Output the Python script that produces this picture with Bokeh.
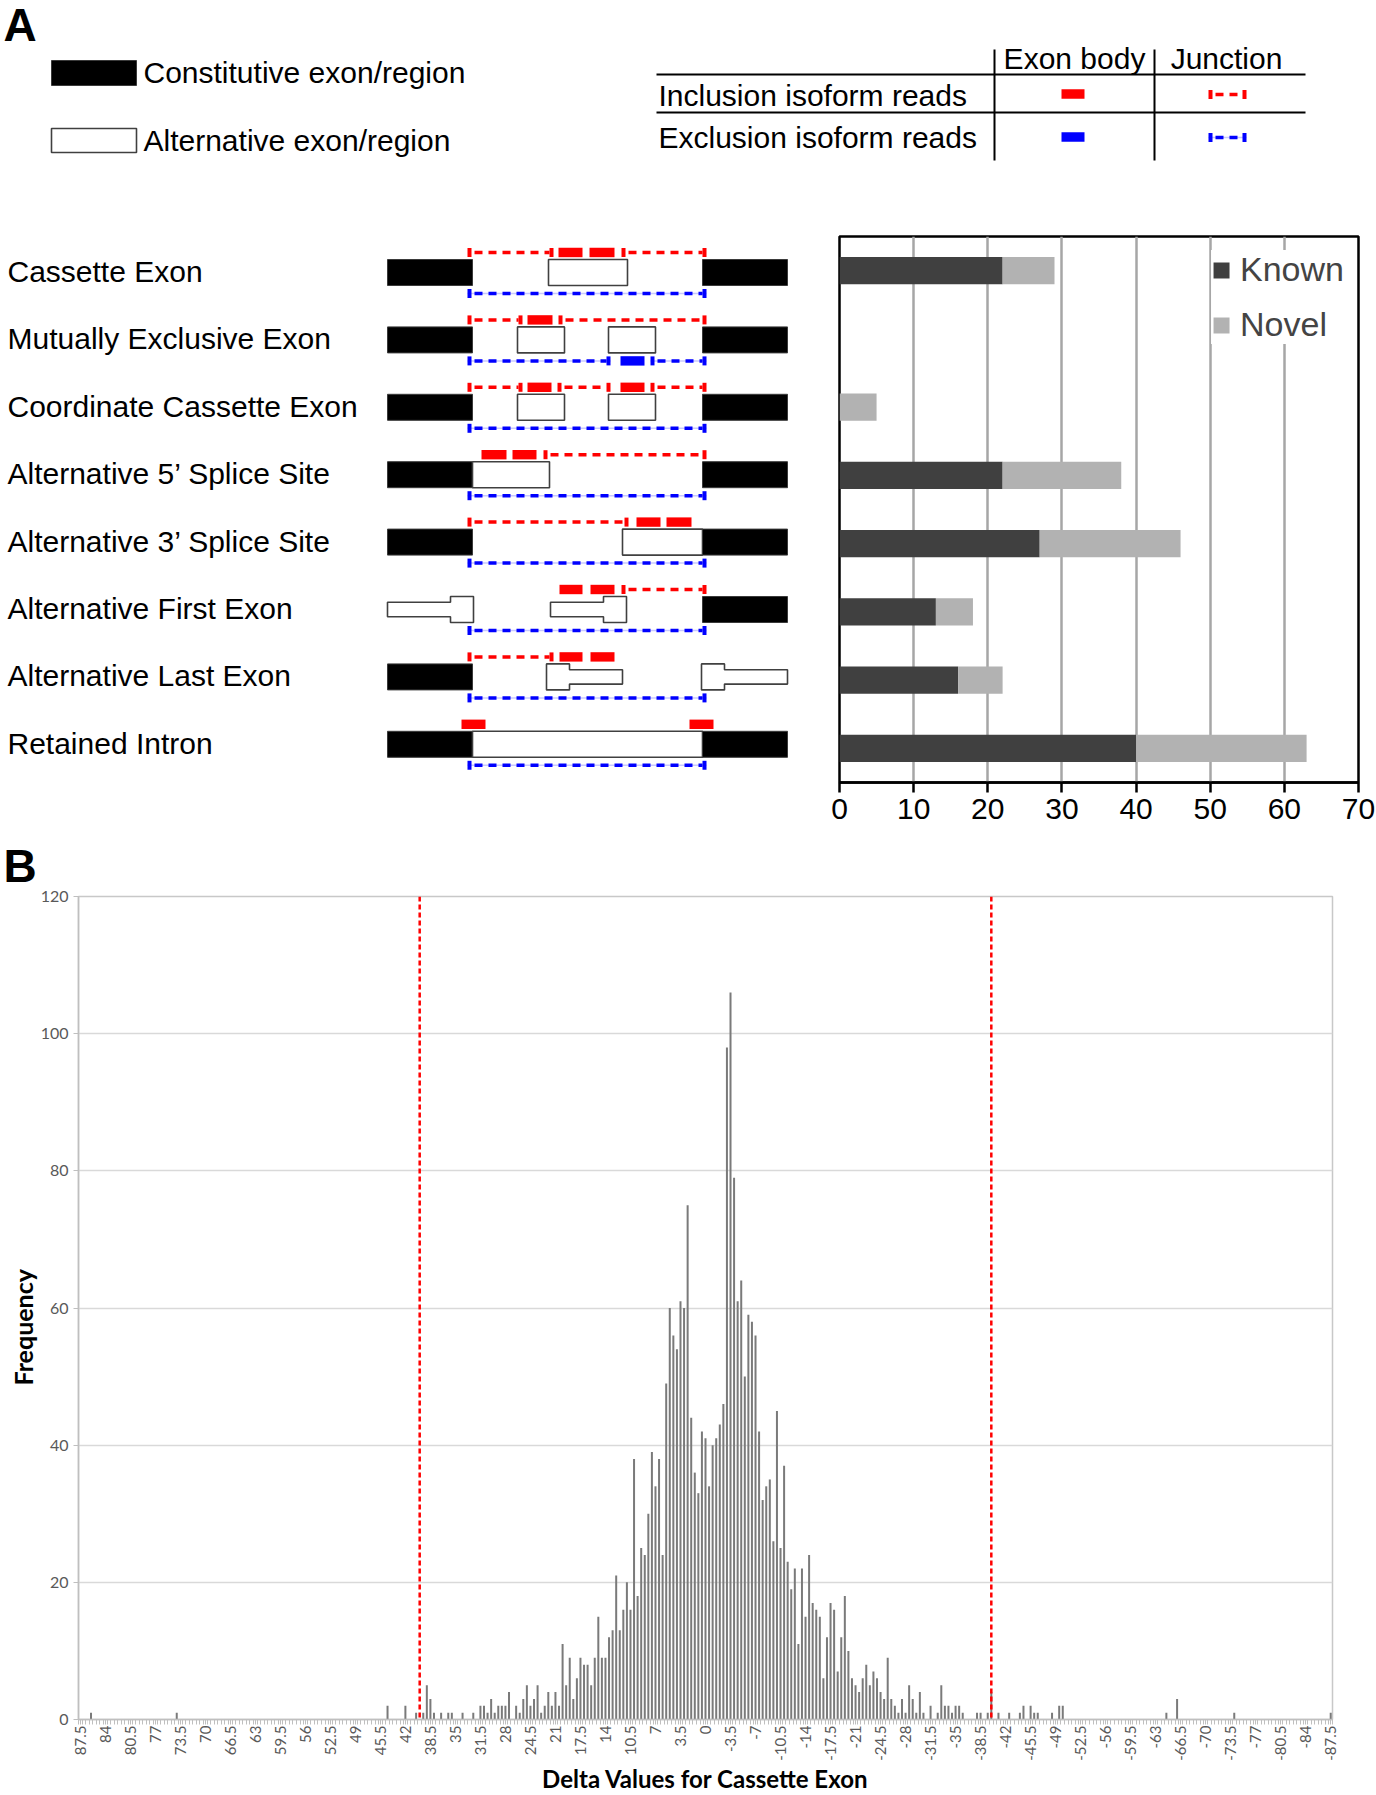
import numpy as np
from bokeh.plotting import figure
from bokeh.models import (Range1d, FactorRange, ColumnDataSource, FixedTicker,
                          CustomJSTickFormatter, Span, Title)
from bokeh.layouts import row
from bokeh.embed import file_html
from bokeh.resources import INLINE
from bokeh.core.properties import value

# ---------------- data: panel A (event counts) ----------------
event_types = ["Cassette Exon", "Mutually Exclusive Exon", "Coordinate Cassette Exon",
               "Alternative 5\u2019 Splice Site", "Alternative 3\u2019 Splice Site",
               "Alternative First Exon", "Alternative Last Exon", "Retained Intron"]
known_counts = [22, 0, 0, 22, 27, 13, 16, 40]
novel_counts = [7, 0, 5, 16, 19, 5, 6, 23]
bar_ticks = [0, 10, 20, 30, 40, 50, 60, 70]
series_names = ["Known", "Novel"]

# ---------------- data: panel B (histogram of delta values) ----------------
delta_values = [
    86.0, 74.0, 44.5, 42.0, 40.5, 39.5, 39.0, 38.5, 38.0, 37.0,
    36.0, 35.5, 34.0, 32.5, 31.5, 31.0, 30.5, 30.0, 29.5, 29.0,
    28.5, 28.0, 27.5, 26.5, 26.0, 25.5, 25.0, 24.5, 24.0, 23.5,
    23.0, 22.5, 22.0, 21.5, 21.0, 20.5, 20.0, 19.5, 19.0, 18.5,
    18.0, 17.5, 17.0, 16.5, 16.0, 15.5, 15.0, 14.5, 14.0, 13.5,
    13.0, 12.5, 12.0, 11.5, 11.0, 10.5, 10.0, 9.5, 9.0, 8.5,
    8.0, 7.5, 7.0, 6.5, 6.0, 5.5, 5.0, 4.5, 4.0, 3.5,
    3.0, 2.5, 2.0, 1.5, 1.0, 0.5, 0.0, -0.5, -1.0, -1.5,
    -2.0, -2.5, -3.0, -3.5, -4.0, -4.5, -5.0, -5.5, -6.0, -6.5,
    -7.0, -7.5, -8.0, -8.5, -9.0, -9.5, -10.0, -10.5, -11.0, -11.5,
    -12.0, -12.5, -13.0, -13.5, -14.0, -14.5, -15.0, -15.5, -16.0, -16.5,
    -17.0, -17.5, -18.0, -18.5, -19.0, -19.5, -20.0, -20.5, -21.0, -21.5,
    -22.0, -22.5, -23.0, -23.5, -24.0, -24.5, -25.0, -25.5, -26.0, -26.5,
    -27.0, -27.5, -28.0, -28.5, -29.0, -29.5, -30.0, -30.5, -31.5, -32.5,
    -33.0, -33.5, -34.0, -34.5, -35.0, -35.5, -36.0, -38.0, -38.5, -39.5,
    -40.0, -41.0, -42.5, -44.0, -44.5, -45.5, -46.0, -46.5, -48.5, -49.5,
    -50.0, -64.5, -66.0, -74.0, -87.5]
frequencies = [
    1, 1, 2, 2, 1, 1, 5, 3, 1, 1,
    1, 1, 1, 1, 2, 2, 1, 3, 1, 2,
    2, 2, 4, 2, 1, 3, 5, 2, 3, 5,
    1, 2, 4, 2, 4, 2, 11, 5, 9, 3,
    6, 9, 8, 8, 5, 9, 15, 9, 9, 12,
    13, 21, 13, 16, 20, 16, 38, 18, 25, 24,
    30, 39, 34, 38, 24, 49, 60, 56, 54, 61,
    60, 75, 44, 36, 33, 42, 41, 34, 40, 41,
    43, 46, 98, 106, 79, 61, 64, 50, 59, 58,
    56, 42, 32, 34, 35, 26, 45, 25, 37, 23,
    19, 22, 11, 22, 15, 24, 17, 16, 15, 6,
    12, 17, 16, 7, 12, 18, 10, 6, 5, 4,
    6, 8, 5, 7, 6, 4, 3, 9, 3, 2,
    1, 3, 1, 5, 3, 1, 4, 1, 2, 1,
    5, 2, 2, 1, 2, 2, 1, 1, 1, 1,
    4, 1, 1, 1, 2, 2, 1, 1, 1, 2,
    2, 1, 3, 1, 1]
cutoffs = [40.0, -40.0]
hist_tick_values = [87.5, 84, 80.5, 77, 73.5, 70, 66.5, 63, 59.5, 56, 52.5, 49, 45.5,
                    42, 38.5, 35, 31.5, 28, 24.5, 21, 17.5, 14, 10.5, 7, 3.5, 0,
                    -3.5, -7, -10.5, -14, -17.5, -21, -24.5, -28, -31.5, -35, -38.5,
                    -42, -45.5, -49, -52.5, -56, -59.5, -63, -66.5, -70, -73.5, -77,
                    -80.5, -84, -87.5]
freq_ticks = [0, 20, 40, 60, 80, 100, 120]

RED = "#FF0000"
BLUE = "#0000FF"
AF = "Liberation Sans"
XF = "Lato"
PAGE_W = 1376


def blank(width, height, xr, yr, **kw):
    opts = dict(min_border=0)
    opts.update(kw)
    p = figure(width=width, height=height, x_range=Range1d(*xr), y_range=Range1d(*yr),
               output_backend="svg", toolbar_location=None,
               x_axis_location=None, y_axis_location=None, **opts)
    p.xgrid.visible = False
    p.ygrid.visible = False
    p.outline_line_color = None
    return p


def label(p, x, y, s, size="30px", align="left", baseline="middle", bold=False, font=AF):
    p.text(x=[x], y=[y], text=[s], text_font=value(font), text_font_size=size,
           text_align=align, text_baseline=baseline,
           text_font_style="bold" if bold else "normal", text_color="black")


def exon(p, x0, x1, yc, h=13.0):
    p.quad(left=[x0], right=[x1], top=[yc - h], bottom=[yc + h],
           fill_color="black", line_color="#3a3a3a", line_width=1)


def alt(p, x0, x1, yc, h=13.0):
    p.quad(left=[x0], right=[x1], top=[yc - h], bottom=[yc + h],
           fill_color="white", line_color="#404040", line_width=1.6)


def shape(p, xs, ys):
    p.patch(x=xs, y=ys, fill_color="white", line_color="#404040", line_width=1.6)


def solid(p, x0, x1, y, color):
    p.quad(left=[x0], right=[x1], top=[y - 4.7], bottom=[y + 4.7],
           fill_color=color, line_color=None)


def junction(p, x0, x1, y, color):
    if color == BLUE:
        p.segment(x0=[x0], y0=[y], x1=[x1], y1=[y], line_color="#C8C8FF", line_width=1.5)
    p.segment(x0=[x0 + 7], y0=[y], x1=[x1 - 4], y1=[y], line_color=color,
              line_width=3.5, line_dash="8 6")
    p.quad(left=[x0, x1 - 4], right=[x0 + 4, x1], top=[y - 4.5, y - 4.5],
           bottom=[y + 4.5, y + 4.5], fill_color=color, line_color=None)


# ---------------- root 1: top strip (legend + table), page y 0..216 ----------------
top = blank(PAGE_W, 216, (0, PAGE_W), (216, 0))
label(top, 3, 24, "A", size="46px", bold=True)
exon(top, 51, 136, 72.5, h=12.5)
alt(top, 51, 136, 140, h=12)
label(top, 143, 72, "Constitutive exon/region")
label(top, 143, 140, "Alternative exon/region")
top.segment(x0=[656, 656], y0=[74, 112], x1=[1305, 1305], y1=[74, 112],
            line_color="black", line_width=2)
top.segment(x0=[994, 1154], y0=[49, 49], x1=[994, 1154], y1=[160, 160],
            line_color="black", line_width=2)
label(top, 1074, 58, "Exon body", align="center")
label(top, 1226, 58, "Junction", align="center")
label(top, 658, 95, "Inclusion isoform reads")
label(top, 658, 137, "Exclusion isoform reads")
solid(top, 1061, 1084, 93.5, RED)
solid(top, 1061, 1084, 136.5, BLUE)
junction(top, 1208, 1246, 94, RED)
junction(top, 1208, 1246, 137, BLUE)

# ---------------- root 2: event diagrams + stacked bars, page y 216..832 ----------------
MID_TOP, FR_TOP, FR_BOT, MID_BOT = 216, 236, 782, 832
diag = blank(820, MID_BOT - MID_TOP, (0, 820), (FR_BOT, FR_TOP),
             min_border_top=FR_TOP - MID_TOP, min_border_bottom=MID_BOT - FR_BOT)


def ry(k):
    return 272 + 67.4 * k


for k, name in enumerate(event_types):
    label(diag, 7, ry(k) - 1, name)

# cassette exon
c = ry(0)
exon(diag, 387, 472, c); exon(diag, 702, 787, c); alt(diag, 548, 627, c)
junction(diag, 467, 553, c - 20, RED); solid(diag, 558, 582, c - 20, RED)
solid(diag, 589, 614, c - 20, RED); junction(diag, 621, 706, c - 20, RED)
junction(diag, 467, 706, c + 21, BLUE)
# mutually exclusive exon
c = ry(1)
exon(diag, 387, 472, c); exon(diag, 702, 787, c)
alt(diag, 517, 564, c); alt(diag, 608, 655, c)
junction(diag, 467, 522, c - 20, RED); solid(diag, 527, 552, c - 20, RED)
junction(diag, 558, 706, c - 20, RED)
junction(diag, 467, 610, c + 21, BLUE); solid(diag, 620, 644, c + 21, BLUE)
junction(diag, 650, 706, c + 21, BLUE)
# coordinate cassette exon
c = ry(2)
exon(diag, 387, 472, c); exon(diag, 702, 787, c)
alt(diag, 517, 564, c); alt(diag, 608, 655, c)
junction(diag, 467, 522, c - 20, RED); solid(diag, 527, 551, c - 20, RED)
junction(diag, 557, 610, c - 20, RED); solid(diag, 620, 644, c - 20, RED)
junction(diag, 650, 706, c - 20, RED)
junction(diag, 467, 706, c + 21, BLUE)
# alternative 5' splice site
c = ry(3)
exon(diag, 387, 472, c); alt(diag, 472, 549, c); exon(diag, 702, 787, c)
solid(diag, 481, 506, c - 20, RED); solid(diag, 512, 536, c - 20, RED)
junction(diag, 543, 706, c - 20, RED)
junction(diag, 467, 706, c + 21, BLUE)
# alternative 3' splice site
c = ry(4)
exon(diag, 387, 472, c); alt(diag, 622, 702, c); exon(diag, 702, 787, c)
junction(diag, 467, 628, c - 20, RED); solid(diag, 636, 660, c - 20, RED)
solid(diag, 666, 691, c - 20, RED)
junction(diag, 467, 706, c + 21, BLUE)
# alternative first exon
c = ry(5)
for (n0, w0, w1) in [(387, 450, 473), (550, 603, 626)]:
    shape(diag, [n0, w0, w0, w1, w1, w0, w0, n0],
          [c - 7.3, c - 7.3, c - 13, c - 13, c + 13, c + 13, c + 7.3, c + 7.3])
exon(diag, 702, 787, c)
solid(diag, 559, 582, c - 20, RED); solid(diag, 590, 614, c - 20, RED)
junction(diag, 621, 706, c - 20, RED)
junction(diag, 467, 706, c + 21, BLUE)
# alternative last exon
c = ry(6)
exon(diag, 387, 472, c)
for (w0, w1, n1) in [(546, 569, 622), (701, 724, 787)]:
    shape(diag, [w0, w1, w1, n1, n1, w1, w1, w0],
          [c - 13, c - 13, c - 7.2, c - 7.2, c + 7.2, c + 7.2, c + 13, c + 13])
junction(diag, 467, 553, c - 20, RED); solid(diag, 559, 582, c - 20, RED)
solid(diag, 590, 614, c - 20, RED)
junction(diag, 467, 706, c + 21, BLUE)
# retained intron
c = ry(7)
exon(diag, 387, 472, c); alt(diag, 472, 702, c); exon(diag, 702, 787, c)
solid(diag, 461, 485, c - 20, RED); solid(diag, 689, 713, c - 20, RED)
junction(diag, 467, 706, c + 21, BLUE)

src = ColumnDataSource(dict(event=event_types, known=known_counts, novel=novel_counts))
bar = figure(width=PAGE_W - 820, height=MID_BOT - MID_TOP,
             y_range=FactorRange(factors=list(reversed(event_types))),
             x_range=Range1d(0, 70), output_backend="svg", toolbar_location=None,
             y_axis_location=None, min_border_left=19, min_border_right=18,
             min_border_top=FR_TOP - MID_TOP, min_border_bottom=MID_BOT - FR_BOT)
bar.hbar_stack(["known", "novel"], y="event", height=0.4,
               fill_color=["#404040", "#B2B2B2"], line_color=None, source=src,
               legend_label=series_names)
bar.xaxis.ticker = FixedTicker(ticks=bar_ticks)
bar.xaxis.major_label_text_font = AF
bar.xaxis.major_label_text_font_size = "30px"
bar.xaxis.major_label_text_color = "black"
bar.xaxis.axis_line_width = 2.5
bar.xaxis.major_tick_line_width = 2.5
bar.xaxis.major_tick_out = 10
bar.xaxis.major_tick_in = 0
bar.xaxis.minor_tick_line_color = None
bar.xaxis.major_label_standoff = 6
bar.xgrid.grid_line_color = "#A6A6A6"
bar.xgrid.grid_line_width = 2.5
bar.ygrid.grid_line_color = None
bar.outline_line_color = "black"
bar.outline_line_width = 2.5
bar.legend.location = "top_right"
bar.legend.label_text_font = AF
bar.legend.label_text_font_size = "34px"
bar.legend.glyph_width = 20
bar.legend.glyph_height = 20
bar.legend.border_line_color = None
bar.legend.background_fill_alpha = 1.0
bar.legend.spacing = 16
bar.legend.padding = 9
bar.legend.margin = 14
bar.legend.label_standoff = 9

mid = row(diag, bar)

# ---------------- root 3: histogram with panel letter B, page y 832..1795 ----------------
hist = figure(width=PAGE_W, height=1795 - MID_BOT, x_range=Range1d(87.75, -87.75),
              y_range=Range1d(0, 120), output_backend="svg", toolbar_location=None,
              min_border_left=78, min_border_right=44, min_border_top=894 - MID_BOT,
              min_border_bottom=70, title=None)
hist.add_layout(Title(text="B", align="left", offset=-75, text_font=AF,
                      text_font_style="bold", text_font_size="46px",
                      text_color="black", standoff=10), "above")
hist.vbar(x=delta_values, top=frequencies, width=0.28, fill_color="#7A7A7A", line_color=None)
for cval in cutoffs:
    hist.add_layout(Span(location=cval, dimension="height", line_color=RED,
                         line_width=2.5, line_dash="5 3"))
hist.xaxis.ticker = FixedTicker(ticks=hist_tick_values,
                                minor_ticks=list(np.arange(-87.75, 87.76, 0.5)))
hist.xaxis.formatter = CustomJSTickFormatter(code="return String(Math.round(tick*10)/10);")
hist.xaxis.major_label_orientation = np.pi / 2
hist.xaxis.major_label_text_font = XF
hist.xaxis.major_label_text_font_size = "15px"
hist.xaxis.major_label_text_color = "#595959"
hist.xaxis.axis_line_color = "#BFBFBF"
hist.xaxis.axis_line_width = 1.5
hist.xaxis.major_tick_out = 5
hist.xaxis.major_tick_in = 0
hist.xaxis.major_tick_line_color = "#BFBFBF"
hist.xaxis.minor_tick_out = 5
hist.xaxis.minor_tick_in = 0
hist.xaxis.minor_tick_line_color = "#BFBFBF"
hist.xaxis.major_label_standoff = 1
hist.xaxis.axis_label = "Delta Values for Cassette Exon"
hist.xaxis.axis_label_text_font = XF
hist.xaxis.axis_label_text_font_style = "bold"
hist.xaxis.axis_label_text_font_size = "24px"
hist.xaxis.axis_label_text_color = "black"
hist.xaxis.axis_label_standoff = 0
hist.yaxis.ticker = FixedTicker(ticks=freq_ticks)
hist.yaxis.major_label_text_font = XF
hist.yaxis.major_label_text_font_size = "16px"
hist.yaxis.major_label_text_color = "#595959"
hist.yaxis.axis_line_color = "#BFBFBF"
hist.yaxis.axis_line_width = 1.5
hist.yaxis.major_tick_out = 5
hist.yaxis.major_tick_in = 0
hist.yaxis.major_tick_line_color = "#BFBFBF"
hist.yaxis.minor_tick_line_color = None
hist.add_layout(Title(text="Frequency", align="left", offset=334,
                      text_font=XF, text_font_style="bold", text_font_size="25px",
                      text_color="black", standoff=0), "left")
hist.xgrid.grid_line_color = None
hist.ygrid.grid_line_color = "#D9D9D9"
hist.ygrid.grid_line_width = 1.5
hist.outline_line_color = "#C8C8C8"
hist.outline_line_width = 1.5

open("out.html", "w").write(file_html([top, mid, hist], INLINE))
